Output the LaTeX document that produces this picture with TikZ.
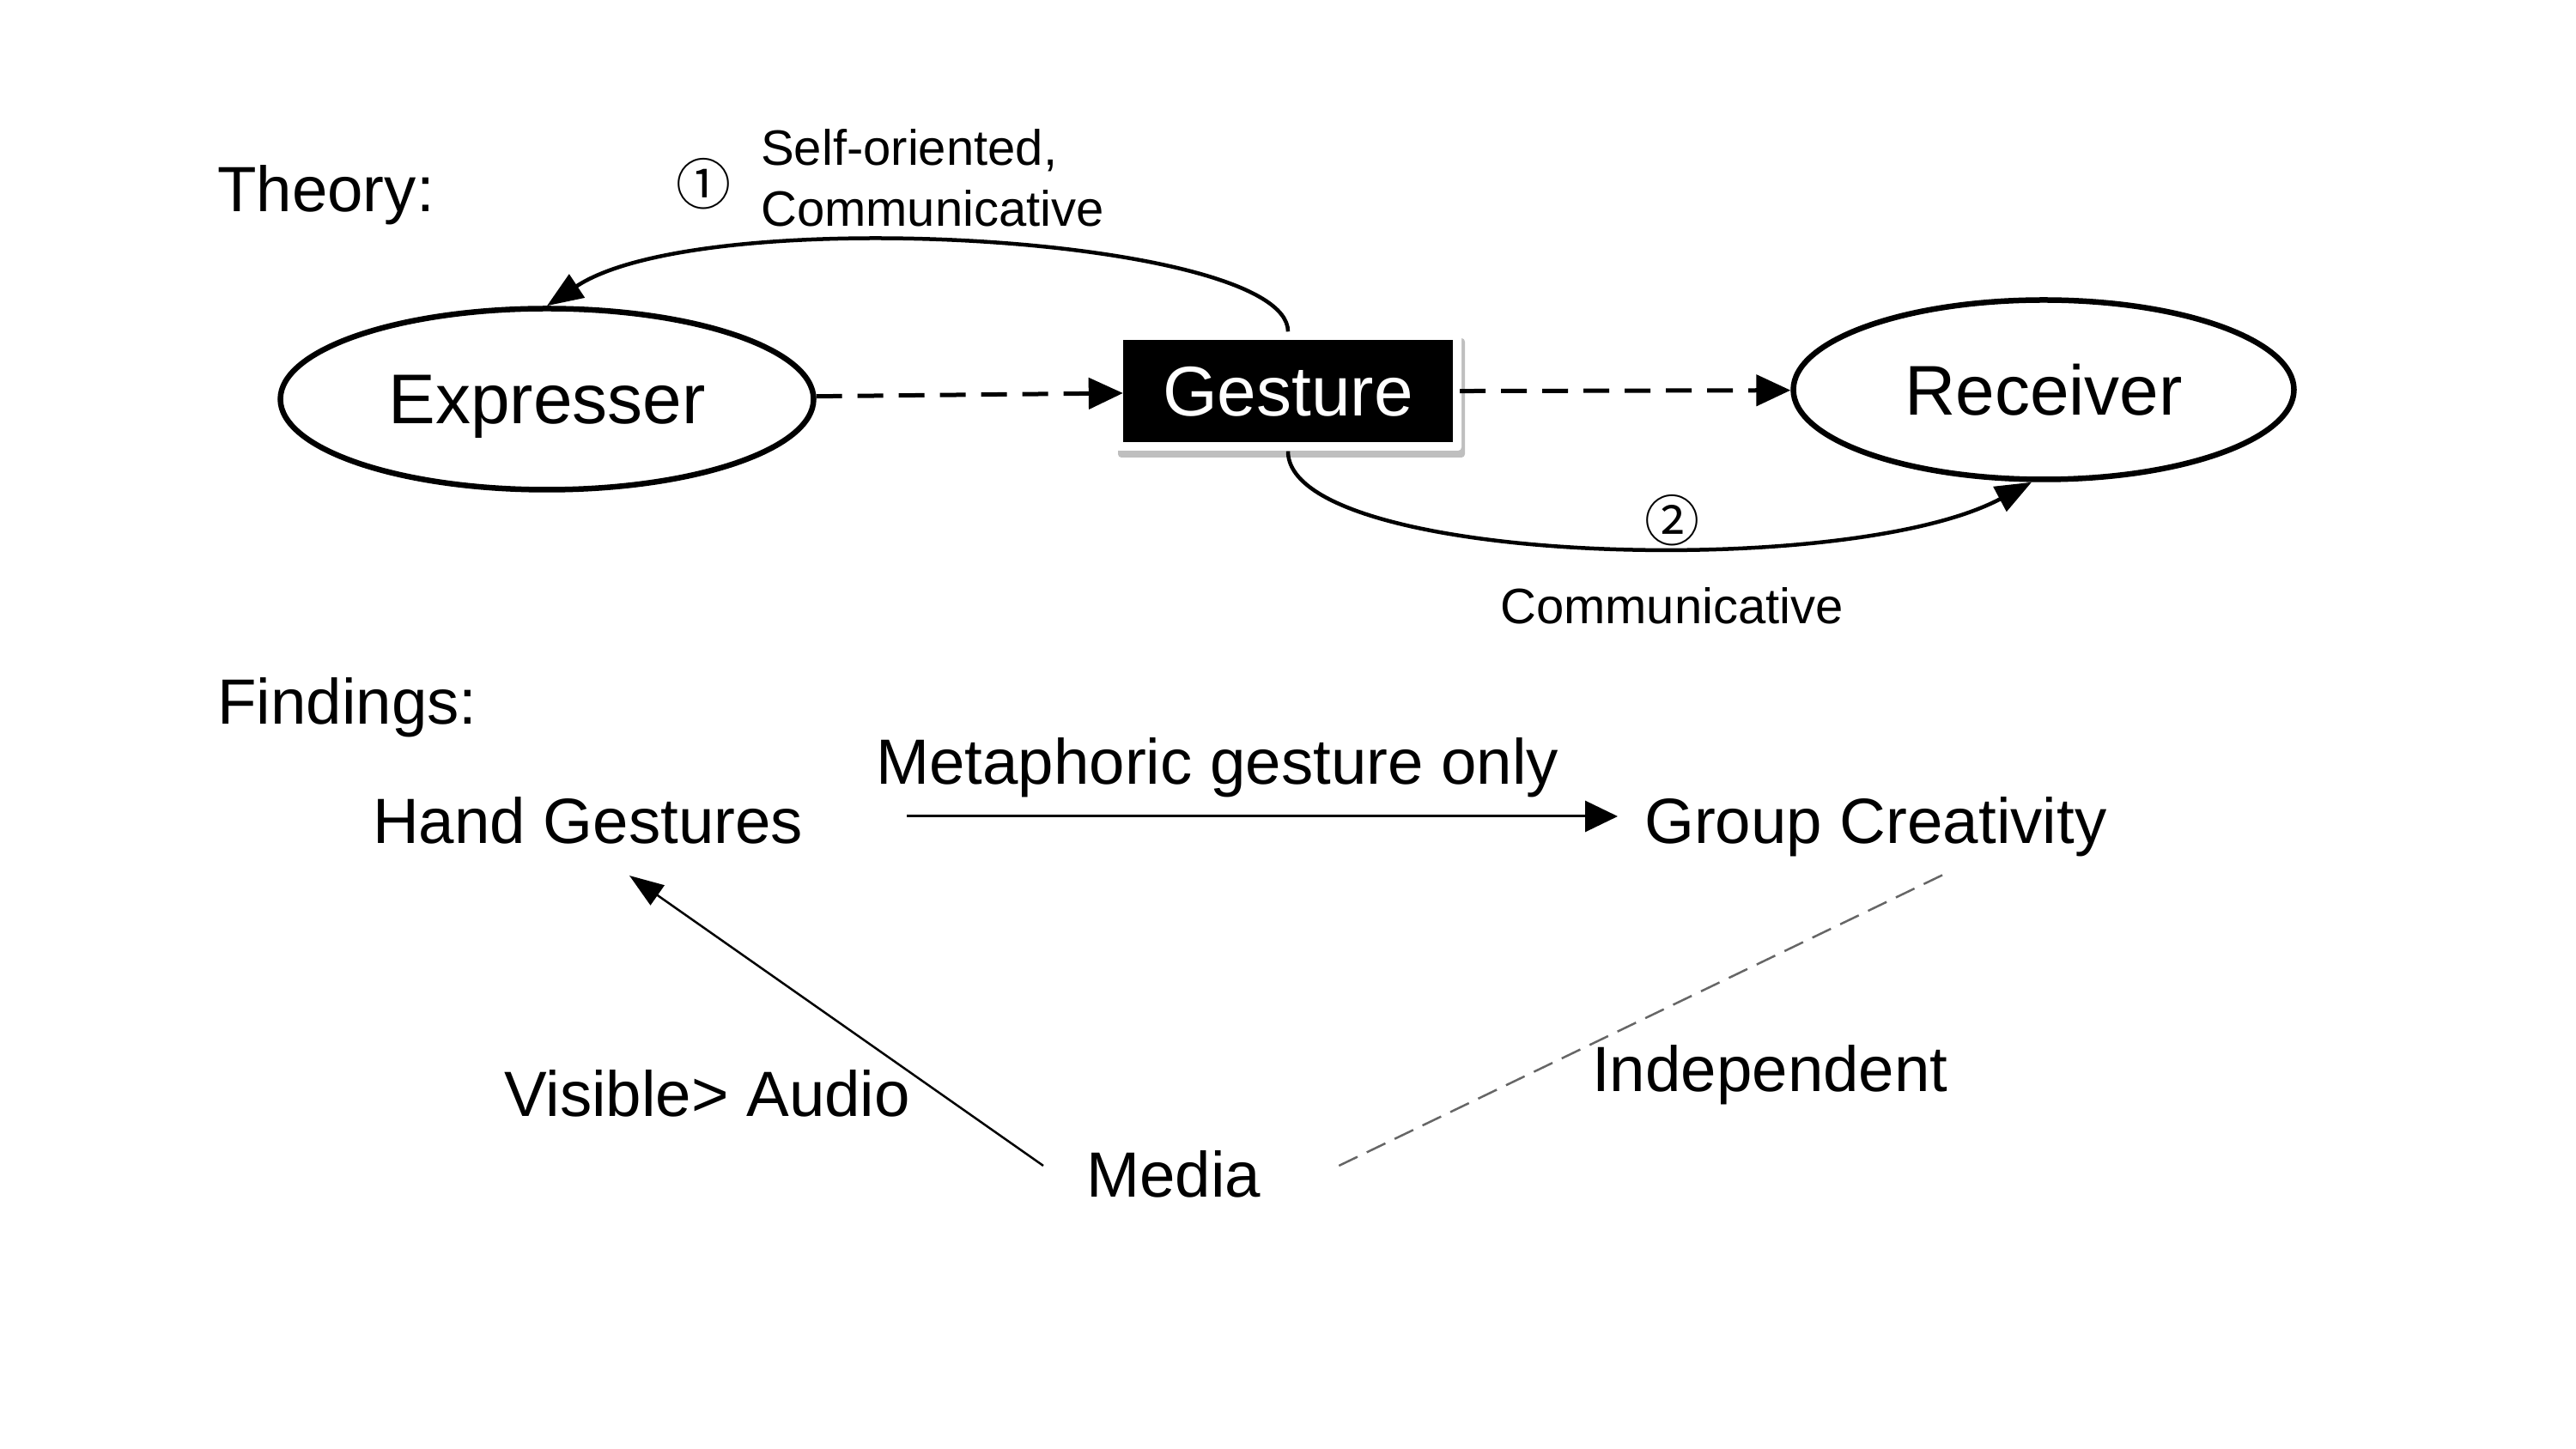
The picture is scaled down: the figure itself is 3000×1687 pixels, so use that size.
\documentclass[tikz,border=0pt]{standalone}
\usepackage{fontspec}
\setmainfont{Liberation Sans}
\newfontfamily\circfont{Noto Sans CJK SC}
\usetikzlibrary{arrows.meta,shapes.geometric,calc}
\begin{document}
\begin{tikzpicture}[x=1pt,y=1pt,
  midtext/.style={font=\fontsize{74.5}{89}\selectfont, inner sep=0pt, anchor=base west},
  smalltext/.style={font=\fontsize{58}{71}\selectfont, inner sep=0pt},
  circnum/.style={font=\circfont\fontsize{64}{64}\selectfont, inner sep=0pt},
  oval/.style={ellipse, draw, line width=6.5pt, inner sep=0pt, text depth=0pt,
    font=\fontsize{82}{98}\selectfont},
  dasharrow/.style={line width=5pt, dash pattern=on 30pt off 18pt,
    -{Triangle[length=40pt,width=36pt]}},
  curvearrow/.style={line width=4.5pt, -{Triangle[length=42pt,width=32pt]}},
  solidarrow/.style={line width=3pt, -{Triangle[length=38pt,width=36pt]}},
  thinarrow/.style={line width=2.5pt, -{Triangle[length=40pt,width=28pt]}},
  greydash/.style={line width=2.5pt, draw=black!60, dash pattern=on 24pt off 12pt}
]
\useasboundingbox (0,0) rectangle (3000,1687);

% Theory part
\node[midtext] (theory) at (253,1440) {Theory:};

\node[oval, minimum width=621pt, minimum height=211pt] (e) at (637,1222) {Expresser};
\node[oval, minimum width=583pt, minimum height=209pt] (r) at (2380,1233) {Receiver};

% frame and shadow of the Gesture box
\fill[black!25, rounded corners=4pt] (1302,1154) rectangle (1706,1293);
\fill[white, rounded corners=4pt] (1298,1162) rectangle (1702,1301);
\node[rectangle, fill=black, text=white, minimum width=384pt, minimum height=119pt,
  inner sep=0pt, text depth=0pt, font=\fontsize{82}{98}\selectfont] (g) at (1500,1231) {Gesture};

\draw[dasharrow] (e) -- (g);
\draw[dasharrow, shorten <=8pt] (g) -- (r);

\draw[curvearrow] ($(g.north)+(0,10)$) .. controls (1500,1412) and (820,1452) .. (e.north);
\draw[curvearrow] ($(g.south)+(0,-10)$) .. controls (1500,1030) and (2150,1010) .. ($(r.south)+(-14,0)$);

\node[circnum] (c1) at (819,1473) {①};
\node[smalltext, anchor=west, align=left] (l1) at (886,1480) {Self-oriented,\\Communicative};
\node[circnum] (c2) at (1947,1081) {②};
\node[smalltext, anchor=base west] (l2) at (1747,960) {Communicative};

% Findings part
\node[midtext] (findings) at (253,843) {Findings:};
\node[midtext] (hg) at (434,704) {Hand Gestures};
\node[midtext] (gc) at (1915,704) {Group Creativity};
\node[midtext] (meta) at (1020,773) {Metaphoric gesture only};
\node[midtext] (media) at (1265,292) {Media};
\node[midtext] (vis) at (587,386) {Visible> Audio};
\node[midtext] (ind) at (1854,415) {Independent};

\draw[solidarrow] ($(hg.base east)+(121,32)$) -- ($(gc.base west)+(-31,32)$);
\draw[thinarrow] ($(media.base west)+(-50,37)$) -- ($(hg.base west)+(299,-37)$);
\draw[greydash] ($(media.base east)+(91,37)$) -- ($(gc.base west)+(350,-35)$);
\end{tikzpicture}
\end{document}
